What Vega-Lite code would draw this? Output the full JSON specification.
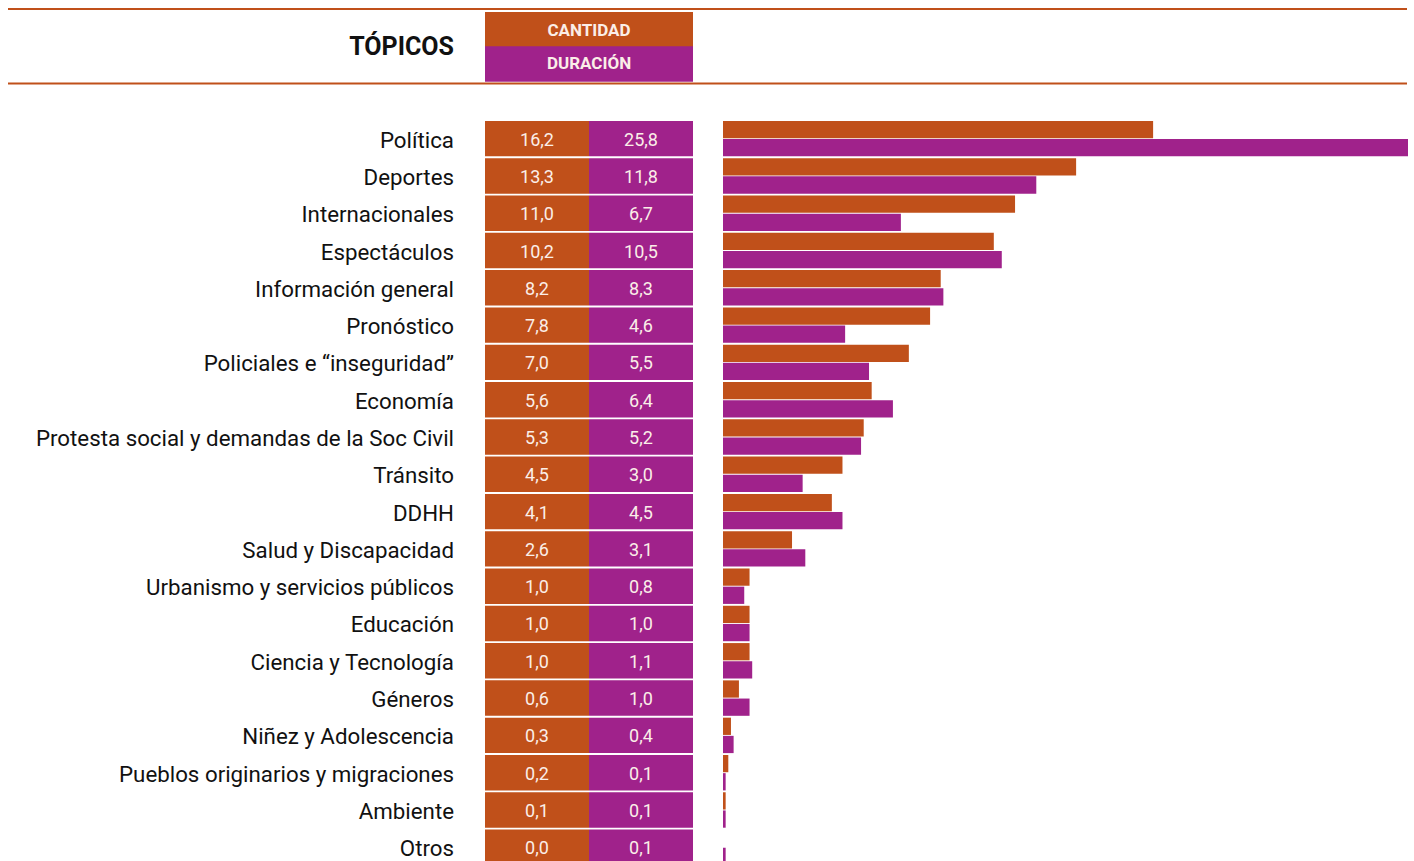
{
  "$schema": "https://vega.github.io/schema/vega-lite/v6.json",
  "padding": {"left": 7, "top": 8, "right": 8, "bottom": 0},
  "spacing": 0,
  "bounds": "flush",
  "config": {
    "view": {"stroke": null},
    "font": "Roboto",
    "locale": {"number": {"decimal": ",", "thousands": ".", "grouping": [3], "currency": ["", "€"]}}
  },
  "datasets": {
    "rows": [
      {"topic": "Política", "measure": "Cantidad", "value": 16.2},
      {"topic": "Política", "measure": "Duración", "value": 25.8},
      {"topic": "Deportes", "measure": "Cantidad", "value": 13.3},
      {"topic": "Deportes", "measure": "Duración", "value": 11.8},
      {"topic": "Internacionales", "measure": "Cantidad", "value": 11.0},
      {"topic": "Internacionales", "measure": "Duración", "value": 6.7},
      {"topic": "Espectáculos", "measure": "Cantidad", "value": 10.2},
      {"topic": "Espectáculos", "measure": "Duración", "value": 10.5},
      {"topic": "Información general", "measure": "Cantidad", "value": 8.2},
      {"topic": "Información general", "measure": "Duración", "value": 8.3},
      {"topic": "Pronóstico", "measure": "Cantidad", "value": 7.8},
      {"topic": "Pronóstico", "measure": "Duración", "value": 4.6},
      {"topic": "Policiales e “inseguridad”", "measure": "Cantidad", "value": 7.0},
      {"topic": "Policiales e “inseguridad”", "measure": "Duración", "value": 5.5},
      {"topic": "Economía", "measure": "Cantidad", "value": 5.6},
      {"topic": "Economía", "measure": "Duración", "value": 6.4},
      {"topic": "Protesta social y demandas de la Soc Civil", "measure": "Cantidad", "value": 5.3},
      {"topic": "Protesta social y demandas de la Soc Civil", "measure": "Duración", "value": 5.2},
      {"topic": "Tránsito", "measure": "Cantidad", "value": 4.5},
      {"topic": "Tránsito", "measure": "Duración", "value": 3.0},
      {"topic": "DDHH", "measure": "Cantidad", "value": 4.1},
      {"topic": "DDHH", "measure": "Duración", "value": 4.5},
      {"topic": "Salud y Discapacidad", "measure": "Cantidad", "value": 2.6},
      {"topic": "Salud y Discapacidad", "measure": "Duración", "value": 3.1},
      {"topic": "Urbanismo y servicios públicos", "measure": "Cantidad", "value": 1.0},
      {"topic": "Urbanismo y servicios públicos", "measure": "Duración", "value": 0.8},
      {"topic": "Educación", "measure": "Cantidad", "value": 1.0},
      {"topic": "Educación", "measure": "Duración", "value": 1.0},
      {"topic": "Ciencia y Tecnología", "measure": "Cantidad", "value": 1.0},
      {"topic": "Ciencia y Tecnología", "measure": "Duración", "value": 1.1},
      {"topic": "Géneros", "measure": "Cantidad", "value": 0.6},
      {"topic": "Géneros", "measure": "Duración", "value": 1.0},
      {"topic": "Niñez y Adolescencia", "measure": "Cantidad", "value": 0.3},
      {"topic": "Niñez y Adolescencia", "measure": "Duración", "value": 0.4},
      {"topic": "Pueblos originarios y migraciones", "measure": "Cantidad", "value": 0.2},
      {"topic": "Pueblos originarios y migraciones", "measure": "Duración", "value": 0.1},
      {"topic": "Ambiente", "measure": "Cantidad", "value": 0.1},
      {"topic": "Ambiente", "measure": "Duración", "value": 0.1},
      {"topic": "Otros", "measure": "Cantidad", "value": 0.0},
      {"topic": "Otros", "measure": "Duración", "value": 0.1}
    ]
  },
  "hconcat": [
    {
      "width": 477,
      "height": 856,
      "layer": [
        {
          "data": {"values": [{"p": "H1"}, {"p": "GAP"}]},
          "mark": {"type": "rule", "color": "#c0501a", "strokeWidth": 2},
          "encoding": {
            "y": {"field": "p", "type": "nominal", "bandPosition": 0, "axis": null,
              "scale": {"domain": ["H1", "H2", "GAP", "Política", "Deportes", "Internacionales", "Espectáculos", "Información general", "Pronóstico", "Policiales e “inseguridad”", "Economía", "Protesta social y demandas de la Soc Civil", "Tránsito", "DDHH", "Salud y Discapacidad", "Urbanismo y servicios públicos", "Educación", "Ciencia y Tecnología", "Géneros", "Niñez y Adolescencia", "Pueblos originarios y migraciones", "Ambiente", "Otros"], "paddingInner": 0.05, "paddingOuter": 0}}
          }
        },
        {
          "data": {"values": [{"p": "H2", "t": "TÓPICOS"}]},
          "mark": {"type": "text", "align": "right", "baseline": "middle", "fontWeight": "bold", "fontSize": 25, "dx": -31, "dy": 1, "color": "#111111"},
          "encoding": {
            "text": {"field": "t"},
            "y": {"field": "p", "type": "nominal", "bandPosition": 0, "axis": null},
            "x": {"datum": 1, "type": "quantitative", "scale": {"domain": [0, 1]}, "axis": null}
          }
        },
        {
          "data": {"name": "rows"},
          "transform": [{"filter": "datum.measure === 'Cantidad'"}],
          "mark": {"type": "text", "align": "right", "baseline": "middle", "fontSize": 22.3, "dx": -31, "dy": 2, "color": "#111111"},
          "encoding": {
            "text": {"field": "topic"},
            "y": {"field": "topic", "type": "nominal", "axis": null},
            "x": {"datum": 1, "type": "quantitative", "axis": null}
          }
        }
      ]
    },
    {
      "width": 208,
      "height": 856,
      "layer": [
        {
          "data": {"values": [{"p": "H1"}, {"p": "GAP"}]},
          "mark": {"type": "rule", "color": "#c0501a", "strokeWidth": 2},
          "encoding": {
            "y": {"field": "p", "type": "nominal", "bandPosition": 0, "axis": null,
              "scale": {"domain": ["H1", "H2", "GAP", "Política", "Deportes", "Internacionales", "Espectáculos", "Información general", "Pronóstico", "Policiales e “inseguridad”", "Economía", "Protesta social y demandas de la Soc Civil", "Tránsito", "DDHH", "Salud y Discapacidad", "Urbanismo y servicios públicos", "Educación", "Ciencia y Tecnología", "Géneros", "Niñez y Adolescencia", "Pueblos originarios y migraciones", "Ambiente", "Otros"], "paddingInner": 0.05, "paddingOuter": 0}}
          }
        },
        {
          "data": {"values": [{"p": "H1", "m": "Cantidad"}]},
          "mark": {"type": "rect", "yOffset": 3},
          "encoding": {
            "y": {"field": "p", "type": "nominal", "axis": null},
            "color": {"field": "m", "type": "nominal", "legend": null, "scale": {"domain": ["Cantidad", "Duración"], "range": ["#c0501a", "#a0228b"]}}
          }
        },
        {
          "data": {"values": [{"p": "H2", "m": "Duración"}]},
          "mark": {"type": "rect"},
          "encoding": {
            "y": {"field": "p", "type": "nominal", "axis": null},
            "color": {"field": "m", "type": "nominal", "legend": null}
          }
        },
        {
          "data": {"values": [{"p": "H1", "t": "CANTIDAD"}]},
          "mark": {"type": "text", "fontWeight": "bold", "fontSize": 17, "color": "#fbeee8", "baseline": "middle", "dy": 4},
          "encoding": {
            "text": {"field": "t"},
            "y": {"field": "p", "type": "nominal", "axis": null}
          }
        },
        {
          "data": {"values": [{"p": "H2", "t": "DURACIÓN"}]},
          "mark": {"type": "text", "fontWeight": "bold", "fontSize": 17, "color": "#fbeee8", "baseline": "middle", "dy": 0},
          "encoding": {
            "text": {"field": "t"},
            "y": {"field": "p", "type": "nominal", "axis": null}
          }
        },
        {
          "data": {"name": "rows"},
          "mark": {"type": "rect"},
          "encoding": {
            "x": {"field": "measure", "type": "nominal", "axis": null, "scale": {"domain": ["Cantidad", "Duración"], "paddingInner": 0, "paddingOuter": 0}},
            "y": {"field": "topic", "type": "nominal", "axis": null},
            "color": {"field": "measure", "type": "nominal", "legend": null}
          }
        },
        {
          "data": {"name": "rows"},
          "mark": {"type": "text", "fontSize": 18, "color": "#fbeee8", "baseline": "middle", "dy": 2},
          "encoding": {
            "x": {"field": "measure", "type": "nominal", "axis": null},
            "y": {"field": "topic", "type": "nominal", "axis": null},
            "text": {"field": "value", "type": "quantitative", "format": ".1f"}
          }
        }
      ]
    },
    {
      "width": 714,
      "height": 856,
      "layer": [
        {
          "data": {"values": [{"p": "H1"}, {"p": "GAP"}]},
          "mark": {"type": "rule", "color": "#c0501a", "strokeWidth": 2},
          "encoding": {
            "y": {"field": "p", "type": "nominal", "bandPosition": 0, "axis": null,
              "scale": {"domain": ["H1", "H2", "GAP", "Política", "Deportes", "Internacionales", "Espectáculos", "Información general", "Pronóstico", "Policiales e “inseguridad”", "Economía", "Protesta social y demandas de la Soc Civil", "Tránsito", "DDHH", "Salud y Discapacidad", "Urbanismo y servicios públicos", "Educación", "Ciencia y Tecnología", "Géneros", "Niñez y Adolescencia", "Pueblos originarios y migraciones", "Ambiente", "Otros"], "paddingInner": 0.05, "paddingOuter": 0}}
          }
        },
        {
          "data": {"name": "rows"},
          "mark": {"type": "bar"},
          "encoding": {
            "x": {"field": "value", "type": "quantitative", "axis": null, "scale": {"domain": [0, 25.8], "range": [30, 715], "nice": false, "zero": true}},
            "y": {"field": "topic", "type": "nominal", "axis": null},
            "yOffset": {"field": "measure", "type": "nominal", "scale": {"domain": ["Cantidad", "Duración"], "paddingInner": 0.05, "paddingOuter": 0}},
            "color": {"field": "measure", "type": "nominal", "legend": null, "scale": {"domain": ["Cantidad", "Duración"], "range": ["#c0501a", "#a0228b"]}}
          }
        }
      ]
    }
  ]
}
